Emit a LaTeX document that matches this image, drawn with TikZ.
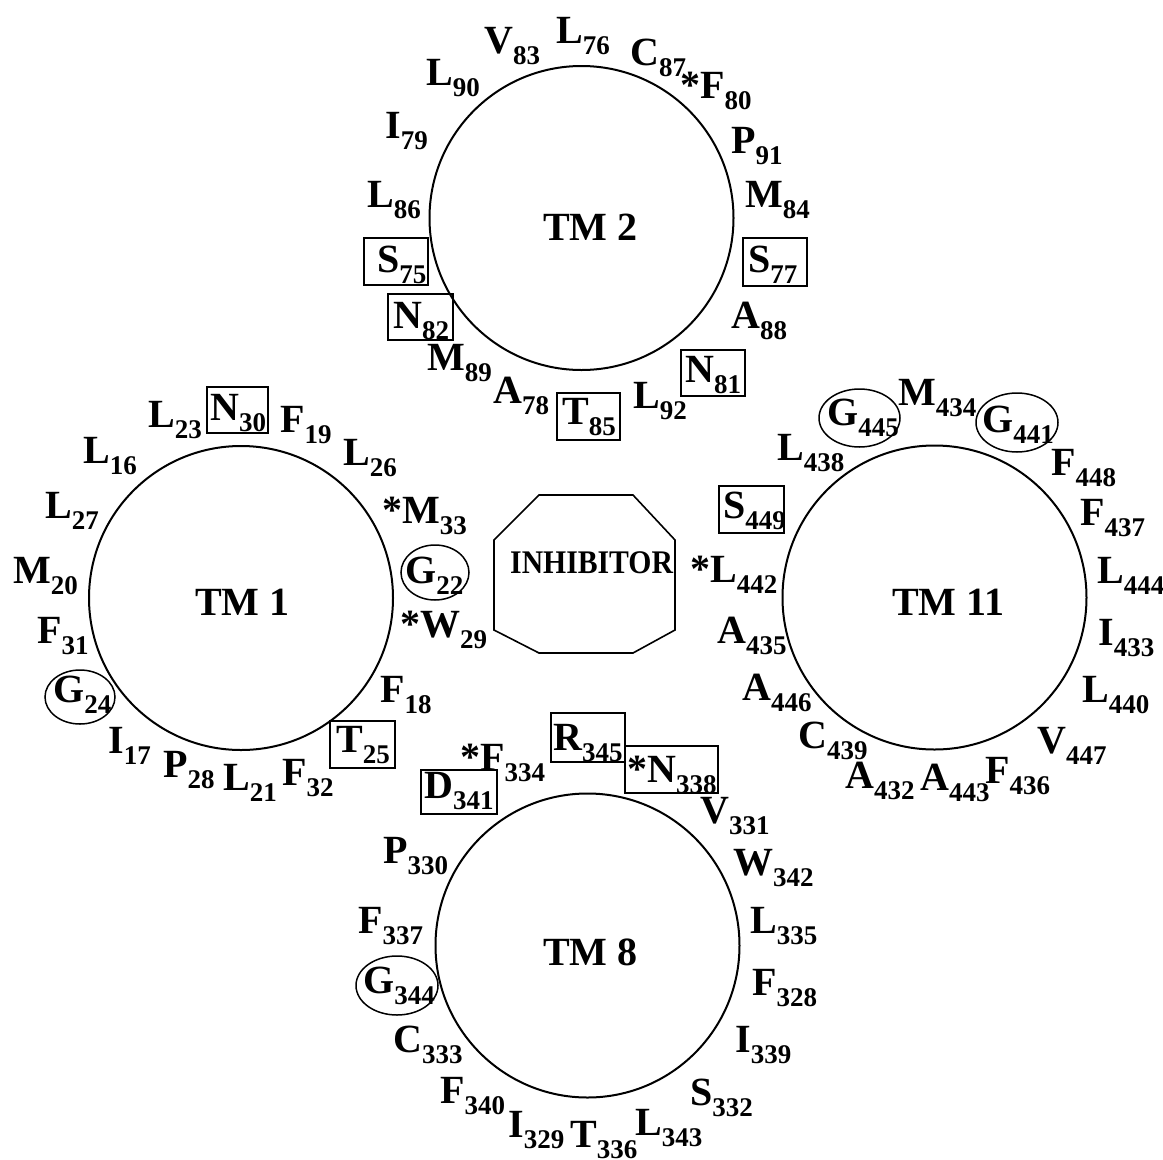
\documentclass[tikz,border=0pt]{standalone}
\usepackage{fontspec}
\setmainfont{Liberation Serif}
\usetikzlibrary{shapes.geometric}
\newcommand\rs[2]{#1\raisebox{-11pt}{\fontsize{27}{27}\selectfont #2}}
\begin{document}
\begin{tikzpicture}[x=1pt,y=-1pt,
  lbl/.style={anchor=base west, inner sep=0, font=\bfseries\fontsize{40}{41}\selectfont},
  circ/.style={draw, circle, minimum size=304pt, inner sep=0, line width=2pt},
  boxn/.style={draw, rectangle, inner sep=0, line width=1.5pt},
  ell/.style={draw, ellipse, inner sep=0, line width=1.5pt},
  oct/.style={draw, line width=1.6pt}]
\useasboundingbox (0,0) rectangle (1163,1160);
% circles
\node[circ] (tm2) at (581.5,218) {};
\node[circ] (tm1) at (241,598) {};
\node[circ] (tm11) at (934.5,597.5) {};
\node[circ] (tm8) at (587.5,945.5) {};
\node[lbl] (ttm2) at (543,240) {TM 2};
\node[lbl] (ttm1) at (195,615) {TM 1};
\node[lbl] (ttm11) at (892,615) {TM 11};
\node[lbl] (ttm8) at (543,965) {TM 8};
% inhibitor
\draw[oct] (539,495) -- (633,495) -- (675,540) -- (675,630) -- (633,653) -- (539,653) -- (494,630) -- (494,540) -- cycle;
\node[anchor=base west, inner sep=0, font=\bfseries\fontsize{33}{34}\selectfont] (inh) at (510,573) {\scalebox{0.9}[1]{INHIBITOR}};
% boxes
\node[boxn, minimum width=64pt, minimum height=48pt] (b77) at (775,262) {};
\node[boxn, minimum width=64pt, minimum height=46pt] (b81) at (713,373) {};
\node[boxn, minimum width=63pt, minimum height=47pt] (b85) at (588.5,416.5) {};
\node[boxn, minimum width=65pt, minimum height=46pt] (b82) at (420.5,317) {};
\node[boxn, minimum width=64pt, minimum height=47pt] (b75) at (396,261.5) {};
\node[boxn, minimum width=61pt, minimum height=46pt] (b30) at (237.5,410) {};
\node[boxn, minimum width=65pt, minimum height=47pt] (b25) at (362.5,744.5) {};
\node[boxn, minimum width=76pt, minimum height=44pt] (b341) at (459,792) {};
\node[boxn, minimum width=74pt, minimum height=49pt] (b345) at (588,737.5) {};
\node[boxn, minimum width=93pt, minimum height=47pt] (b338) at (671.5,769.5) {};
\node[boxn, minimum width=65pt, minimum height=47pt] (b449) at (751.5,509.5) {};
% ellipses
\node[ell, minimum width=68pt, minimum height=55pt] (e22) at (435,572.5) {};
\node[ell, minimum width=70pt, minimum height=54pt] (e24) at (80,697) {};
\node[ell, minimum width=82pt, minimum height=59pt] (e344) at (397,985.5) {};
\node[ell, minimum width=81pt, minimum height=58pt] (e445) at (859.5,418) {};
\node[ell, minimum width=82pt, minimum height=59pt] (e441) at (1017,422.5) {};
% TM2 labels
\node[lbl] (l83) at (484,53) {\rs{V}{83}};
\node[lbl] (l76) at (556,43) {\rs{L}{76}};
\node[lbl] (l87) at (630,65) {\rs{C}{87}};
\node[lbl] (l80) at (680,98) {\rs{*F}{80}};
\node[lbl] (l91) at (731,153) {\rs{P}{91}};
\node[lbl] (l84) at (745,207) {\rs{M}{84}};
\node[lbl] (l77) at (748,272) {\rs{S}{77}};
\node[lbl] (l88) at (731,328) {\rs{A}{88}};
\node[lbl] (l81) at (685,382) {\rs{N}{81}};
\node[lbl] (l92) at (633,408) {\rs{L}{92}};
\node[lbl] (l85) at (562,424) {\rs{T}{85}};
\node[lbl] (l78) at (493,403) {\rs{A}{78}};
\node[lbl] (l89) at (427,370) {\rs{M}{89}};
\node[lbl] (l82) at (393,328) {\rs{N}{82}};
\node[lbl] (l75) at (377,272) {\rs{S}{75}};
\node[lbl] (l86) at (367,207) {\rs{L}{86}};
\node[lbl] (l79) at (385,138) {\rs{I}{79}};
\node[lbl] (l90) at (426,85) {\rs{L}{90}};
% TM1 labels
\node[lbl] (l30) at (210,420) {\rs{N}{30}};
\node[lbl] (l23) at (148,427) {\rs{L}{23}};
\node[lbl] (l19) at (280,432) {\rs{F}{19}};
\node[lbl] (l26) at (343,465) {\rs{L}{26}};
\node[lbl] (l16) at (83,463) {\rs{L}{16}};
\node[lbl] (l27) at (45,518) {\rs{L}{27}};
\node[lbl] (l33) at (382,523) {\rs{*M}{33}};
\node[lbl] (l22) at (405,583) {\rs{G}{22}};
\node[lbl] (l20) at (13,583) {\rs{M}{20}};
\node[lbl] (l29) at (400,637) {\rs{*W}{29}};
\node[lbl] (l31) at (37,643) {\rs{F}{31}};
\node[lbl] (l24) at (53,702) {\rs{G}{24}};
\node[lbl] (l18) at (380,702) {\rs{F}{18}};
\node[lbl] (l25) at (336,752) {\rs{T}{25}};
\node[lbl] (l17) at (108,753) {\rs{I}{17}};
\node[lbl] (l28) at (163,777) {\rs{P}{28}};
\node[lbl] (l21) at (223,790) {\rs{L}{21}};
\node[lbl] (l32) at (282,785) {\rs{F}{32}};
% TM8 labels
\node[lbl] (l334) at (460,770) {\rs{*F}{334}};
\node[lbl] (l341) at (424,798) {\rs{D}{341}};
\node[lbl] (l345) at (553,750) {\rs{R}{345}};
\node[lbl] (l338) at (627,782) {\rs{*N}{338}};
\node[lbl] (l331) at (700,823) {\rs{V}{331}};
\node[lbl] (l342) at (733,875) {\rs{W}{342}};
\node[lbl] (l335) at (750,933) {\rs{L}{335}};
\node[lbl] (l328) at (752,995) {\rs{F}{328}};
\node[lbl] (l339) at (735,1052) {\rs{I}{339}};
\node[lbl] (l332) at (690,1105) {\rs{S}{332}};
\node[lbl] (l343) at (635,1135) {\rs{L}{343}};
\node[lbl] (l336) at (570,1147) {\rs{T}{336}};
\node[lbl] (l329) at (508,1137) {\rs{I}{329}};
\node[lbl] (l340) at (440,1103) {\rs{F}{340}};
\node[lbl] (l333) at (393,1052) {\rs{C}{333}};
\node[lbl] (l344) at (363,993) {\rs{G}{344}};
\node[lbl] (l337) at (358,933) {\rs{F}{337}};
\node[lbl] (l330) at (383,863) {\rs{P}{330}};
% TM11 labels
\node[lbl] (l445) at (827,425) {\rs{G}{445}};
\node[lbl] (l434) at (898,405) {\rs{M}{434}};
\node[lbl] (l441) at (982,432) {\rs{G}{441}};
\node[lbl] (l438) at (777,460) {\rs{L}{438}};
\node[lbl] (l448) at (1051,475) {\rs{F}{448}};
\node[lbl] (l449) at (723,518) {\rs{S}{449}};
\node[lbl] (l437) at (1080,525) {\rs{F}{437}};
\node[lbl] (l442) at (690,582) {\rs{*L}{442}};
\node[lbl] (l444) at (1097,583) {\rs{L}{444}};
\node[lbl] (l435) at (717,643) {\rs{A}{435}};
\node[lbl] (l433) at (1098,645) {\rs{I}{433}};
\node[lbl] (l446) at (742,700) {\rs{A}{446}};
\node[lbl] (l440) at (1082,702) {\rs{L}{440}};
\node[lbl] (l439) at (798,748) {\rs{C}{439}};
\node[lbl] (l447) at (1037,753) {\rs{V}{447}};
\node[lbl] (l432) at (845,788) {\rs{A}{432}};
\node[lbl] (l443) at (920,790) {\rs{A}{443}};
\node[lbl] (l436) at (985,783) {\rs{F}{436}};
\end{tikzpicture}
\end{document}
